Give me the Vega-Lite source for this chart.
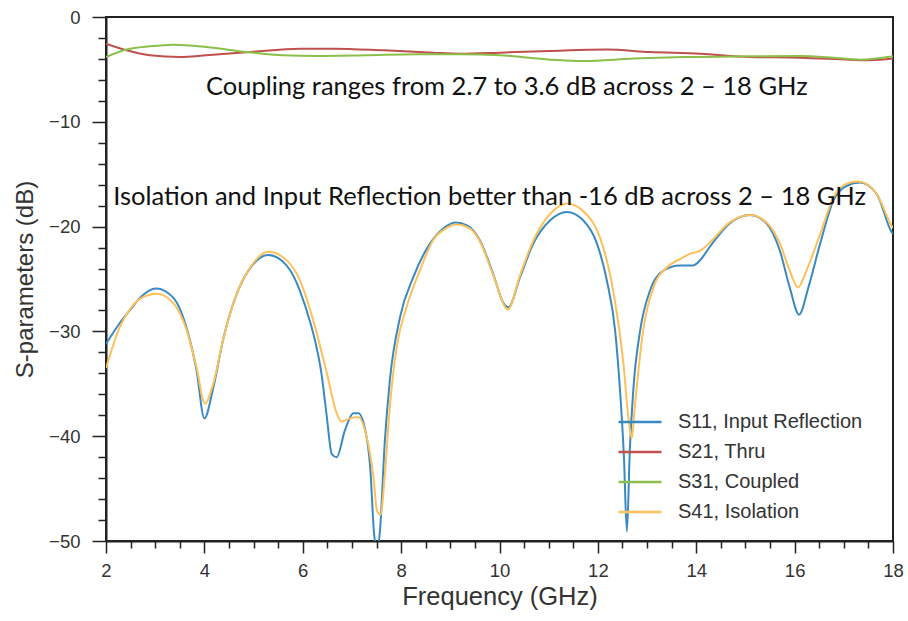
{
  "$schema": "https://vega.github.io/schema/vega-lite/v6.json",
  "width": 787,
  "height": 524,
  "autosize": {"type": "none"},
  "padding": {"left": 106, "top": 17, "right": 15, "bottom": 80},
  "background": "white",
  "config": {
    "view": {"stroke": "#222", "strokeWidth": 2},
    "font": "Liberation Sans"
  },
  "resolve": {"axis": {"x": "independent", "y": "independent"}},
  "layer": [
    {
      "data": {"values": [
        {"f": 2.0, "db": -31.2, "s": "S11, Input Reflection"},
        {"f": 2.28, "db": -29.2, "s": "S11, Input Reflection"},
        {"f": 2.5, "db": -27.9, "s": "S11, Input Reflection"},
        {"f": 2.69, "db": -26.8, "s": "S11, Input Reflection"},
        {"f": 3.02, "db": -25.9, "s": "S11, Input Reflection"},
        {"f": 3.37, "db": -26.8, "s": "S11, Input Reflection"},
        {"f": 3.64, "db": -29.7, "s": "S11, Input Reflection"},
        {"f": 3.84, "db": -33.7, "s": "S11, Input Reflection"},
        {"f": 4.0, "db": -38.3, "s": "S11, Input Reflection"},
        {"f": 4.18, "db": -35.4, "s": "S11, Input Reflection"},
        {"f": 4.38, "db": -30.8, "s": "S11, Input Reflection"},
        {"f": 4.66, "db": -26.4, "s": "S11, Input Reflection"},
        {"f": 4.99, "db": -23.6, "s": "S11, Input Reflection"},
        {"f": 5.30, "db": -22.7, "s": "S11, Input Reflection"},
        {"f": 5.67, "db": -23.7, "s": "S11, Input Reflection"},
        {"f": 5.82, "db": -24.8, "s": "S11, Input Reflection"},
        {"f": 5.94, "db": -26.1, "s": "S11, Input Reflection"},
        {"f": 6.15, "db": -29.1, "s": "S11, Input Reflection"},
        {"f": 6.25, "db": -30.9, "s": "S11, Input Reflection"},
        {"f": 6.38, "db": -34.0, "s": "S11, Input Reflection"},
        {"f": 6.49, "db": -38.2, "s": "S11, Input Reflection"},
        {"f": 6.59, "db": -41.7, "s": "S11, Input Reflection"},
        {"f": 6.69, "db": -42.0, "s": "S11, Input Reflection"},
        {"f": 6.86, "db": -39.4, "s": "S11, Input Reflection"},
        {"f": 7.03, "db": -37.8, "s": "S11, Input Reflection"},
        {"f": 7.13, "db": -37.8, "s": "S11, Input Reflection"},
        {"f": 7.27, "db": -39.4, "s": "S11, Input Reflection"},
        {"f": 7.37, "db": -42.9, "s": "S11, Input Reflection"},
        {"f": 7.45, "db": -49.3, "s": "S11, Input Reflection"},
        {"f": 7.51, "db": -51.0, "s": "S11, Input Reflection"},
        {"f": 7.57, "db": -49.0, "s": "S11, Input Reflection"},
        {"f": 7.67, "db": -40.4, "s": "S11, Input Reflection"},
        {"f": 7.77, "db": -34.7, "s": "S11, Input Reflection"},
        {"f": 7.98, "db": -28.6, "s": "S11, Input Reflection"},
        {"f": 8.25, "db": -24.8, "s": "S11, Input Reflection"},
        {"f": 8.59, "db": -21.6, "s": "S11, Input Reflection"},
        {"f": 8.85, "db": -20.2, "s": "S11, Input Reflection"},
        {"f": 9.10, "db": -19.6, "s": "S11, Input Reflection"},
        {"f": 9.35, "db": -19.9, "s": "S11, Input Reflection"},
        {"f": 9.60, "db": -21.3, "s": "S11, Input Reflection"},
        {"f": 9.87, "db": -24.5, "s": "S11, Input Reflection"},
        {"f": 10.08, "db": -27.3, "s": "S11, Input Reflection"},
        {"f": 10.18, "db": -27.7, "s": "S11, Input Reflection"},
        {"f": 10.42, "db": -24.8, "s": "S11, Input Reflection"},
        {"f": 10.69, "db": -21.6, "s": "S11, Input Reflection"},
        {"f": 11.03, "db": -19.4, "s": "S11, Input Reflection"},
        {"f": 11.37, "db": -18.6, "s": "S11, Input Reflection"},
        {"f": 11.70, "db": -19.4, "s": "S11, Input Reflection"},
        {"f": 11.98, "db": -21.6, "s": "S11, Input Reflection"},
        {"f": 12.18, "db": -25.1, "s": "S11, Input Reflection"},
        {"f": 12.35, "db": -29.9, "s": "S11, Input Reflection"},
        {"f": 12.45, "db": -35.6, "s": "S11, Input Reflection"},
        {"f": 12.53, "db": -42.0, "s": "S11, Input Reflection"},
        {"f": 12.59, "db": -49.1, "s": "S11, Input Reflection"},
        {"f": 12.65, "db": -41.3, "s": "S11, Input Reflection"},
        {"f": 12.72, "db": -35.6, "s": "S11, Input Reflection"},
        {"f": 12.86, "db": -29.9, "s": "S11, Input Reflection"},
        {"f": 13.06, "db": -26.1, "s": "S11, Input Reflection"},
        {"f": 13.33, "db": -24.2, "s": "S11, Input Reflection"},
        {"f": 13.67, "db": -23.7, "s": "S11, Input Reflection"},
        {"f": 13.94, "db": -23.7, "s": "S11, Input Reflection"},
        {"f": 14.08, "db": -23.2, "s": "S11, Input Reflection"},
        {"f": 14.28, "db": -21.9, "s": "S11, Input Reflection"},
        {"f": 14.68, "db": -19.7, "s": "S11, Input Reflection"},
        {"f": 15.09, "db": -18.9, "s": "S11, Input Reflection"},
        {"f": 15.43, "db": -19.7, "s": "S11, Input Reflection"},
        {"f": 15.70, "db": -22.3, "s": "S11, Input Reflection"},
        {"f": 15.90, "db": -25.8, "s": "S11, Input Reflection"},
        {"f": 16.09, "db": -28.4, "s": "S11, Input Reflection"},
        {"f": 16.28, "db": -25.8, "s": "S11, Input Reflection"},
        {"f": 16.52, "db": -21.6, "s": "S11, Input Reflection"},
        {"f": 16.79, "db": -17.5, "s": "S11, Input Reflection"},
        {"f": 17.06, "db": -16.1, "s": "S11, Input Reflection"},
        {"f": 17.33, "db": -15.8, "s": "S11, Input Reflection"},
        {"f": 17.67, "db": -16.9, "s": "S11, Input Reflection"},
        {"f": 17.97, "db": -20.5, "s": "S11, Input Reflection"},
        {"f": 18.0, "db": -20.7, "s": "S11, Input Reflection"},

        {"f": 2.0, "db": -2.54, "s": "S21, Thru"},
        {"f": 2.42, "db": -3.18, "s": "S21, Thru"},
        {"f": 2.89, "db": -3.65, "s": "S21, Thru"},
        {"f": 3.50, "db": -3.82, "s": "S21, Thru"},
        {"f": 4.04, "db": -3.65, "s": "S21, Thru"},
        {"f": 4.93, "db": -3.34, "s": "S21, Thru"},
        {"f": 5.94, "db": -3.02, "s": "S21, Thru"},
        {"f": 6.62, "db": -3.02, "s": "S21, Thru"},
        {"f": 7.64, "db": -3.18, "s": "S21, Thru"},
        {"f": 8.65, "db": -3.40, "s": "S21, Thru"},
        {"f": 9.20, "db": -3.50, "s": "S21, Thru"},
        {"f": 10.01, "db": -3.40, "s": "S21, Thru"},
        {"f": 11.03, "db": -3.24, "s": "S21, Thru"},
        {"f": 12.18, "db": -3.11, "s": "S21, Thru"},
        {"f": 13.06, "db": -3.34, "s": "S21, Thru"},
        {"f": 14.08, "db": -3.50, "s": "S21, Thru"},
        {"f": 15.09, "db": -3.82, "s": "S21, Thru"},
        {"f": 16.11, "db": -3.88, "s": "S21, Thru"},
        {"f": 17.12, "db": -4.07, "s": "S21, Thru"},
        {"f": 17.53, "db": -4.13, "s": "S21, Thru"},
        {"f": 18.0, "db": -3.97, "s": "S21, Thru"},

        {"f": 2.0, "db": -3.82, "s": "S31, Coupled"},
        {"f": 2.42, "db": -3.11, "s": "S31, Coupled"},
        {"f": 2.89, "db": -2.80, "s": "S31, Coupled"},
        {"f": 3.37, "db": -2.64, "s": "S31, Coupled"},
        {"f": 4.04, "db": -2.86, "s": "S31, Coupled"},
        {"f": 4.86, "db": -3.34, "s": "S31, Coupled"},
        {"f": 5.60, "db": -3.65, "s": "S31, Coupled"},
        {"f": 6.28, "db": -3.72, "s": "S31, Coupled"},
        {"f": 7.30, "db": -3.65, "s": "S31, Coupled"},
        {"f": 8.32, "db": -3.56, "s": "S31, Coupled"},
        {"f": 9.20, "db": -3.56, "s": "S31, Coupled"},
        {"f": 10.01, "db": -3.65, "s": "S31, Coupled"},
        {"f": 11.03, "db": -4.07, "s": "S31, Coupled"},
        {"f": 11.70, "db": -4.20, "s": "S31, Coupled"},
        {"f": 12.72, "db": -3.97, "s": "S31, Coupled"},
        {"f": 13.74, "db": -3.82, "s": "S31, Coupled"},
        {"f": 15.09, "db": -3.75, "s": "S31, Coupled"},
        {"f": 16.11, "db": -3.72, "s": "S31, Coupled"},
        {"f": 16.79, "db": -3.88, "s": "S31, Coupled"},
        {"f": 17.33, "db": -4.07, "s": "S31, Coupled"},
        {"f": 18.0, "db": -3.75, "s": "S31, Coupled"},

        {"f": 2.0, "db": -33.5, "s": "S41, Isolation"},
        {"f": 2.28, "db": -29.6, "s": "S41, Isolation"},
        {"f": 2.5, "db": -27.8, "s": "S41, Isolation"},
        {"f": 2.69, "db": -26.9, "s": "S41, Isolation"},
        {"f": 3.03, "db": -26.4, "s": "S41, Isolation"},
        {"f": 3.37, "db": -27.3, "s": "S41, Isolation"},
        {"f": 3.64, "db": -29.9, "s": "S41, Isolation"},
        {"f": 3.84, "db": -33.4, "s": "S41, Isolation"},
        {"f": 4.01, "db": -36.9, "s": "S41, Isolation"},
        {"f": 4.18, "db": -35.0, "s": "S41, Isolation"},
        {"f": 4.38, "db": -30.8, "s": "S41, Isolation"},
        {"f": 4.66, "db": -26.4, "s": "S41, Isolation"},
        {"f": 4.99, "db": -23.5, "s": "S41, Isolation"},
        {"f": 5.30, "db": -22.4, "s": "S41, Isolation"},
        {"f": 5.67, "db": -23.2, "s": "S41, Isolation"},
        {"f": 5.94, "db": -25.1, "s": "S41, Isolation"},
        {"f": 6.21, "db": -28.9, "s": "S41, Isolation"},
        {"f": 6.49, "db": -34.0, "s": "S41, Isolation"},
        {"f": 6.69, "db": -37.8, "s": "S41, Isolation"},
        {"f": 6.79, "db": -38.6, "s": "S41, Isolation"},
        {"f": 6.96, "db": -38.3, "s": "S41, Isolation"},
        {"f": 7.13, "db": -38.2, "s": "S41, Isolation"},
        {"f": 7.30, "db": -40.1, "s": "S41, Isolation"},
        {"f": 7.43, "db": -43.6, "s": "S41, Isolation"},
        {"f": 7.51, "db": -47.1, "s": "S41, Isolation"},
        {"f": 7.58, "db": -47.5, "s": "S41, Isolation"},
        {"f": 7.67, "db": -43.6, "s": "S41, Isolation"},
        {"f": 7.77, "db": -37.2, "s": "S41, Isolation"},
        {"f": 7.91, "db": -31.5, "s": "S41, Isolation"},
        {"f": 8.11, "db": -27.7, "s": "S41, Isolation"},
        {"f": 8.38, "db": -24.2, "s": "S41, Isolation"},
        {"f": 8.65, "db": -21.3, "s": "S41, Isolation"},
        {"f": 8.90, "db": -20.2, "s": "S41, Isolation"},
        {"f": 9.13, "db": -19.8, "s": "S41, Isolation"},
        {"f": 9.40, "db": -20.2, "s": "S41, Isolation"},
        {"f": 9.60, "db": -21.4, "s": "S41, Isolation"},
        {"f": 9.87, "db": -24.6, "s": "S41, Isolation"},
        {"f": 10.17, "db": -27.9, "s": "S41, Isolation"},
        {"f": 10.42, "db": -24.6, "s": "S41, Isolation"},
        {"f": 10.69, "db": -21.3, "s": "S41, Isolation"},
        {"f": 11.03, "db": -18.8, "s": "S41, Isolation"},
        {"f": 11.37, "db": -17.8, "s": "S41, Isolation"},
        {"f": 11.76, "db": -18.8, "s": "S41, Isolation"},
        {"f": 12.04, "db": -21.0, "s": "S41, Isolation"},
        {"f": 12.31, "db": -26.1, "s": "S41, Isolation"},
        {"f": 12.52, "db": -33.1, "s": "S41, Isolation"},
        {"f": 12.62, "db": -38.2, "s": "S41, Isolation"},
        {"f": 12.69, "db": -40.2, "s": "S41, Isolation"},
        {"f": 12.75, "db": -37.2, "s": "S41, Isolation"},
        {"f": 12.92, "db": -29.9, "s": "S41, Isolation"},
        {"f": 13.13, "db": -25.8, "s": "S41, Isolation"},
        {"f": 13.40, "db": -23.9, "s": "S41, Isolation"},
        {"f": 13.67, "db": -23.1, "s": "S41, Isolation"},
        {"f": 13.87, "db": -22.6, "s": "S41, Isolation"},
        {"f": 14.08, "db": -22.3, "s": "S41, Isolation"},
        {"f": 14.28, "db": -21.5, "s": "S41, Isolation"},
        {"f": 14.68, "db": -19.6, "s": "S41, Isolation"},
        {"f": 15.09, "db": -18.9, "s": "S41, Isolation"},
        {"f": 15.43, "db": -19.6, "s": "S41, Isolation"},
        {"f": 15.70, "db": -21.6, "s": "S41, Isolation"},
        {"f": 15.90, "db": -24.2, "s": "S41, Isolation"},
        {"f": 16.07, "db": -25.8, "s": "S41, Isolation"},
        {"f": 16.24, "db": -24.2, "s": "S41, Isolation"},
        {"f": 16.52, "db": -20.7, "s": "S41, Isolation"},
        {"f": 16.79, "db": -17.2, "s": "S41, Isolation"},
        {"f": 17.06, "db": -15.9, "s": "S41, Isolation"},
        {"f": 17.29, "db": -15.7, "s": "S41, Isolation"},
        {"f": 17.67, "db": -16.9, "s": "S41, Isolation"},
        {"f": 17.97, "db": -19.9, "s": "S41, Isolation"},
        {"f": 18.0, "db": -20.1, "s": "S41, Isolation"}
      ]},
      "mark": {"type": "line", "strokeWidth": 2, "interpolate": "monotone", "clip": true},
      "encoding": {
        "x": {
          "field": "f", "type": "quantitative",
          "scale": {"domain": [2, 18], "nice": false, "zero": false},
          "axis": {
            "orient": "bottom",
            "values": [2, 4, 6, 8, 10, 12, 14, 16, 18],
            "tickSize": 12, "tickColor": "#222", "tickWidth": 1.5,
            "domainColor": "#222", "domainWidth": 2,
            "grid": false,
            "labelFontSize": 18.5, "labelColor": "#333", "labelPadding": 8, "labelOverlap": false, "labelFlush": false,
            "title": "Frequency (GHz)", "titleFontSize": 25.5, "titleFontWeight": "normal", "titleColor": "#333", "titlePadding": 5
          }
        },
        "y": {
          "field": "db", "type": "quantitative",
          "scale": {"domain": [-50, 0], "nice": false},
          "axis": {
            "orient": "left",
            "values": [-50, -40, -30, -20, -10, 0],
            "tickSize": 14, "tickColor": "#222", "tickWidth": 1.5,
            "domainColor": "#222", "domainWidth": 2,
            "grid": false,
            "labelFontSize": 18.5, "labelColor": "#333", "labelPadding": 12, "labelOverlap": false, "labelFlush": false,
            "title": "S-parameters (dB)", "titleFontSize": 24, "titleFontWeight": "normal", "titleColor": "#333", "titlePadding": 11
          }
        },
        "color": {
          "field": "s", "type": "nominal",
          "scale": {
            "domain": ["S11, Input Reflection", "S21, Thru", "S31, Coupled", "S41, Isolation"],
            "range": ["#3a8ac2", "#c0504d", "#8cbf4a", "#fdc05a"]
          },
          "legend": {
            "orient": "none", "legendX": 511, "legendY": 395,
            "title": null,
            "symbolType": "stroke", "symbolSize": 1849, "symbolStrokeWidth": 2.5,
            "labelFontSize": 20, "labelColor": "#333", "labelOffset": 15, "labelLimit": 0,
            "rowPadding": 10, "clipHeight": 20
          }
        }
      }
    },
    {
      "data": {"values": [{"t": "Coupling ranges from 2.7 to 3.6 dB across 2 – 18 GHz"}]},
      "mark": {"type": "text", "font": "Lato", "fontSize": 25.5, "color": "#111", "align": "center", "baseline": "middle"},
      "encoding": {
        "text": {"field": "t"},
        "x": {
          "datum": 10.15, "type": "quantitative",
          "axis": {
            "orient": "bottom",
            "values": [2.5,3,3.5,4.5,5,5.5,6.5,7,7.5,8.5,9,9.5,10.5,11,11.5,12.5,13,13.5,14.5,15,15.5,16.5,17,17.5],
            "labels": false, "domain": false, "grid": false, "title": null,
            "tickSize": 7, "tickColor": "#222", "tickWidth": 1.5
          }
        },
        "y": {
          "datum": -6.7, "type": "quantitative",
          "axis": {
            "orient": "left",
            "values": [-48,-46,-44,-42,-38,-36,-34,-32,-28,-26,-24,-22,-18,-16,-14,-12,-8,-6,-4,-2],
            "labels": false, "domain": false, "grid": false, "title": null,
            "tickSize": 8, "tickColor": "#222", "tickWidth": 1.5
          }
        }
      }
    },
    {
      "data": {"values": [{"t": "Isolation and Input Reflection better than -16 dB across 2 – 18 GHz"}]},
      "mark": {"type": "text", "font": "Lato", "fontSize": 25.5, "color": "#111", "align": "center", "baseline": "middle"},
      "encoding": {
        "text": {"field": "t"},
        "x": {"datum": 9.8, "type": "quantitative", "axis": null},
        "y": {"datum": -17.2, "type": "quantitative", "axis": null}
      }
    }
  ]
}
